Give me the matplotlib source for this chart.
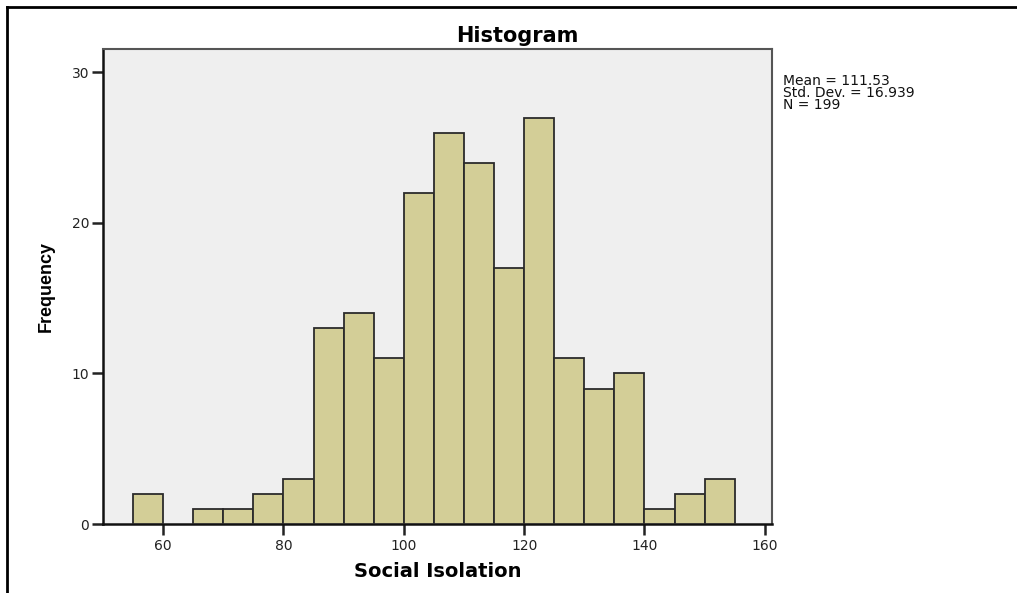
import matplotlib
matplotlib.use('Agg')
import matplotlib.pyplot as plt
from matplotlib.lines import Line2D

# bin edges (width 5) and counts
bin_left = [55, 60, 65, 70, 75, 80, 85, 90, 95, 100,
            105, 110, 115, 120, 125, 130, 135, 140, 145, 150]
counts = [2, 0, 1, 1, 2, 3, 13, 14, 11, 22,
          26, 24, 17, 27, 11, 9, 10, 1, 2, 3]
bin_width = 5
x_ticks = [60, 80, 100, 120, 140, 160]
y_ticks = [0, 10, 20, 30]
stats_text = 'Mean = 111.53\nStd. Dev. = 16.939\nN = 199'

plt.rcParams['font.family'] = ['DejaVu Sans']

fig = plt.figure(figsize=(10.17, 5.93), dpi=100)
ax = fig.add_axes([103 / 1017, 1 - 524 / 593, (772 - 103) / 1017, (524 - 49) / 593])
ax.set_facecolor('#efefef')

bars = [b for b, c in zip(bin_left, counts) if c > 0]
heights = [c for c in counts if c > 0]
ax.bar(bars, heights, width=bin_width, align='edge', color='#d3ce97',
       edgecolor='#2b2b2b', linewidth=1.3, zorder=3)

ax.set_xlim(50, 161.2)
ax.set_ylim(0, 31.55)
ax.set_xticks(x_ticks)
ax.set_yticks(y_ticks)
ax.tick_params(axis='both', direction='out', length=8, width=1.8, color='#222222',
               labelsize=10, labelcolor='#222222')
ax.tick_params(axis='y', pad=2)
ax.tick_params(axis='x', pad=3)
for side in ['left', 'bottom']:
    ax.spines[side].set_color('#111111')
    ax.spines[side].set_linewidth(1.8)
for side in ['top', 'right']:
    ax.spines[side].set_color('#555555')
    ax.spines[side].set_linewidth(1.5)

# SPSS centres the title on the whole chart, not on the plot area
fig.text(517 / 1017, 1 - 42 / 593, 'Histogram', fontsize=15, fontweight='bold',
         ha='center', va='baseline')
ax.set_xlabel('Social Isolation', fontsize=14, fontweight='bold', labelpad=6)
ax.set_ylabel('Frequency', fontsize=13, fontweight='bold',
              family=['Liberation Sans'], labelpad=12)

fig.text(783 / 1017, 1 - 74 / 593, stats_text, fontsize=10, va='top', ha='left',
         linespacing=0.82, color='#111111')

# outer frame (top and left only, as cropped in the reference)
fig.add_artist(Line2D([7 / 1017, 7 / 1017], [0, 1 - 7 / 593], transform=fig.transFigure,
                      color='black', linewidth=2))
fig.add_artist(Line2D([7 / 1017, 1], [1 - 7 / 593, 1 - 7 / 593], transform=fig.transFigure,
                      color='black', linewidth=2))

fig.savefig('out.png', dpi=100)
